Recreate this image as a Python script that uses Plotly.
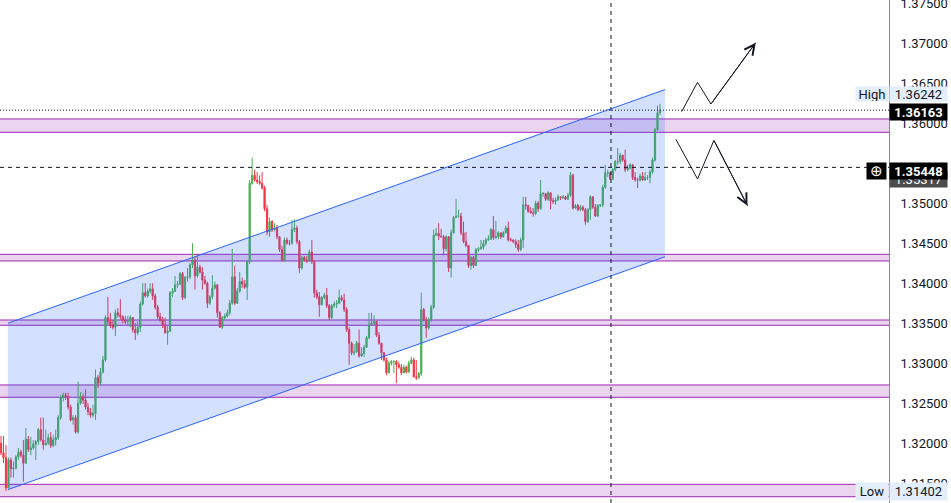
import plotly.graph_objects as go

# --- candles (open of each bar = previous close) ---
first_open = 1.3200
closes = [
    1.3188, 1.3182, 1.3144, 1.3179, 1.3168, 1.3169, 1.3183, 1.3189, 1.3185, 1.3175,
    1.3205, 1.3192, 1.3194, 1.3199, 1.3202, 1.3217, 1.3204, 1.3198, 1.3200, 1.3207,
    1.3197, 1.3204, 1.3207, 1.3232, 1.3257, 1.3260, 1.3258, 1.3245, 1.3229, 1.3232,
    1.3214, 1.3250, 1.3258, 1.3254, 1.3245, 1.3239, 1.3235, 1.3237, 1.3282, 1.3275,
    1.3289, 1.3304, 1.3357, 1.3352, 1.3348, 1.3345, 1.3363, 1.3360, 1.3358, 1.3354,
    1.3352, 1.3353, 1.3357, 1.3342, 1.3338, 1.3345, 1.3374, 1.3388, 1.3384, 1.3390,
    1.3393, 1.3384, 1.3370, 1.3358, 1.3354, 1.3348, 1.3338, 1.3340,
    1.3388, 1.3390, 1.3398, 1.3399, 1.3412, 1.3382, 1.3407, 1.3408, 1.3423, 1.3429,
    1.3409, 1.3420, 1.3414, 1.3404, 1.3400, 1.3375, 1.3383, 1.3394, 1.3398, 1.3363,
    1.3345, 1.3357, 1.3359, 1.3363, 1.3375, 1.3408, 1.3375, 1.3390, 1.3402, 1.3399,
    1.3395, 1.3427, 1.3525, 1.3535, 1.3529, 1.3527, 1.3525, 1.3519, 1.3493, 1.3464,
    1.3477, 1.3467, 1.3469, 1.3458, 1.3442, 1.3429, 1.3454, 1.3450, 1.3450, 1.3467,
    1.3469, 1.3452, 1.3419, 1.3432, 1.3429, 1.3428, 1.3439, 1.3427, 1.3388, 1.3383,
    1.3373, 1.3382, 1.3385, 1.3372, 1.3357, 1.3372, 1.3374, 1.3375, 1.3382, 1.3379,
    1.3367, 1.3342, 1.3325, 1.3313, 1.3314, 1.3325, 1.3309, 1.3312, 1.3320, 1.3332,
    1.3348, 1.3350, 1.3352, 1.3335, 1.3325, 1.3313, 1.3304, 1.3288, 1.3300, 1.3302,
    1.3302, 1.3298, 1.3295, 1.3288, 1.3295, 1.3289, 1.3300, 1.3304, 1.3283, 1.3282,
    1.3287, 1.3367, 1.3354, 1.3344, 1.3354, 1.3370, 1.3460,
    1.3462, 1.3459, 1.3458, 1.3443, 1.3458, 1.3419, 1.3463, 1.3482, 1.3484, 1.3484,
    1.3463, 1.3452, 1.3447, 1.3422, 1.3432, 1.3422, 1.3442, 1.3443, 1.3445, 1.3450,
    1.3454, 1.3455, 1.3467, 1.3457, 1.3458, 1.3463, 1.3458, 1.3463, 1.3469, 1.3454,
    1.3454, 1.3452, 1.3448, 1.3442, 1.3454, 1.3498, 1.3497, 1.3490, 1.3488, 1.3487,
    1.3500, 1.3493, 1.3512, 1.3512, 1.3505, 1.3513, 1.3503, 1.3502, 1.3504, 1.3508,
    1.3507,
    1.3508, 1.3505, 1.3510, 1.3535, 1.3494, 1.3497, 1.3492, 1.3495, 1.3492, 1.3477,
    1.3492, 1.3508, 1.3495, 1.3484, 1.3497, 1.3498, 1.3520, 1.3538, 1.3538, 1.3530,
    1.3542, 1.3552, 1.3552, 1.3560, 1.3554, 1.3542, 1.3544, 1.3548, 1.3532, 1.3529,
    1.3529, 1.3534, 1.3529, 1.3532, 1.3532, 1.3539, 1.3554, 1.3592, 1.3613, 1.36163,
]
highs = [
    1.3209, 1.3209, 1.3198, 1.3182, 1.3182, 1.3177, 1.3185, 1.3194, 1.3192, 1.3204,
    1.3219, 1.3209, 1.3208, 1.3204, 1.3204, 1.3219, 1.3232, 1.3232, 1.3217, 1.3212,
    1.3214, 1.3210, 1.3217, 1.3235, 1.3260, 1.3263, 1.3263, 1.3263, 1.3248, 1.3235,
    1.3235, 1.3277, 1.3264, 1.3262, 1.3267, 1.3250, 1.3244, 1.3248, 1.3292, 1.3285,
    1.3294, 1.3309, 1.3360, 1.3383, 1.3363, 1.3354, 1.3367, 1.3369, 1.3380, 1.3360,
    1.3359, 1.3359, 1.3360, 1.3357, 1.3350, 1.3352, 1.3377, 1.3400, 1.3400, 1.3393,
    1.3400, 1.3400, 1.3387, 1.3373, 1.3363, 1.3358, 1.3357, 1.3348,
    1.3390, 1.3394, 1.3409, 1.3403, 1.3414, 1.3414, 1.3409, 1.3419, 1.3425, 1.3450,
    1.3433, 1.3435, 1.3423, 1.3420, 1.3409, 1.3402, 1.3385, 1.3410, 1.3402, 1.3399,
    1.3365, 1.3359, 1.3362, 1.3367, 1.3379, 1.3443, 1.3422, 1.3394, 1.3414, 1.3407,
    1.3404, 1.3429, 1.3529, 1.3557, 1.3542, 1.3539, 1.3535, 1.3539, 1.3522, 1.3498,
    1.3482, 1.3479, 1.3475, 1.3473, 1.3459, 1.3447, 1.3457, 1.3457, 1.3454, 1.3479,
    1.3480, 1.3472, 1.3454, 1.3434, 1.3434, 1.3434, 1.3442, 1.3454, 1.3429, 1.3392,
    1.3389, 1.3384, 1.3388, 1.3394, 1.3374, 1.3374, 1.3377, 1.3379, 1.3392, 1.3385,
    1.3387, 1.3370, 1.3345, 1.3327, 1.3324, 1.3328, 1.3342, 1.3320, 1.3323, 1.3334,
    1.3363, 1.3363, 1.3360, 1.3353, 1.3339, 1.3325, 1.3314, 1.3307, 1.3303, 1.3304,
    1.3304, 1.3304, 1.3302, 1.3299, 1.3298, 1.3297, 1.3303, 1.3308, 1.3307, 1.3304,
    1.3289, 1.3388, 1.3369, 1.3358, 1.3357, 1.3373, 1.3467,
    1.3469, 1.3475, 1.3468, 1.3460, 1.3460, 1.3459, 1.3467, 1.3484, 1.3505, 1.3492,
    1.3488, 1.3477, 1.3464, 1.3448, 1.3434, 1.3434, 1.3444, 1.3445, 1.3454, 1.3454,
    1.3457, 1.3460, 1.3469, 1.3484, 1.3478, 1.3465, 1.3463, 1.3465, 1.3472, 1.3477,
    1.3457, 1.3455, 1.3455, 1.3454, 1.3457, 1.3508, 1.3508, 1.3498, 1.3495, 1.3494,
    1.3503, 1.3503, 1.3529, 1.3514, 1.3513, 1.3515, 1.3513, 1.3507, 1.3507, 1.3511,
    1.3509,
    1.3510, 1.3509, 1.3513, 1.3539, 1.3537, 1.3499, 1.3499, 1.3498, 1.3497, 1.3494,
    1.3494, 1.3510, 1.3509, 1.3499, 1.3499, 1.3499, 1.3523, 1.3548, 1.3542, 1.3539,
    1.3544, 1.3554, 1.3569, 1.3563, 1.3560, 1.3567, 1.3548, 1.3550, 1.3549, 1.3539,
    1.3532, 1.3537, 1.3539, 1.3539, 1.3535, 1.3542, 1.3557, 1.3594, 1.3622, 1.36242,
]
lows = [
    1.3185, 1.3175, 1.31402, 1.3144, 1.3157, 1.3157, 1.3167, 1.3179, 1.3182, 1.3152,
    1.3174, 1.3189, 1.3185, 1.3192, 1.3179, 1.3198, 1.3202, 1.3192, 1.3197, 1.3198,
    1.3194, 1.3195, 1.3197, 1.3204, 1.3229, 1.3252, 1.3254, 1.3242, 1.3227, 1.3223,
    1.3212, 1.3212, 1.3248, 1.3249, 1.3242, 1.3235, 1.3232, 1.3232, 1.3229, 1.3269,
    1.3273, 1.3287, 1.3302, 1.3348, 1.3344, 1.3342, 1.3334, 1.3357, 1.3354, 1.3350,
    1.3349, 1.3347, 1.3345, 1.3338, 1.3329, 1.3335, 1.3339, 1.3372, 1.3382, 1.3382,
    1.3387, 1.3379, 1.3367, 1.3354, 1.3352, 1.3344, 1.3337, 1.3323,
    1.3339, 1.3383, 1.3389, 1.3394, 1.3397, 1.3379, 1.3380, 1.3402, 1.3405, 1.3419,
    1.3392, 1.3407, 1.3412, 1.3392, 1.3398, 1.3369, 1.3373, 1.3380, 1.3392, 1.3357,
    1.3344, 1.3343, 1.3354, 1.3357, 1.3360, 1.3373, 1.3373, 1.3374, 1.3388, 1.3394,
    1.3393, 1.3379, 1.3424, 1.3523, 1.3527, 1.3524, 1.3523, 1.3517, 1.3490, 1.3460,
    1.3458, 1.3464, 1.3465, 1.3455, 1.3439, 1.3427, 1.3427, 1.3448, 1.3447, 1.3448,
    1.3464, 1.3449, 1.3413, 1.3417, 1.3427, 1.3425, 1.3427, 1.3424, 1.3382, 1.3380,
    1.3358, 1.3372, 1.3380, 1.3369, 1.3354, 1.3355, 1.3369, 1.3369, 1.3374, 1.3377,
    1.3364, 1.3339, 1.3298, 1.3310, 1.3310, 1.3313, 1.3307, 1.3308, 1.3308, 1.3319,
    1.3330, 1.3347, 1.3348, 1.3333, 1.3323, 1.3304, 1.3302, 1.3285, 1.3287, 1.3297,
    1.3288, 1.3275, 1.3293, 1.3285, 1.3287, 1.3287, 1.3288, 1.3299, 1.3282, 1.3279,
    1.3280, 1.3284, 1.3352, 1.3332, 1.3342, 1.3352, 1.3368,
    1.3459, 1.3454, 1.3457, 1.3435, 1.3440, 1.3414, 1.3407, 1.3462, 1.3482, 1.3482,
    1.3460, 1.3450, 1.3445, 1.3419, 1.3417, 1.3419, 1.3422, 1.3439, 1.3442, 1.3442,
    1.3447, 1.3453, 1.3454, 1.3454, 1.3455, 1.3455, 1.3455, 1.3457, 1.3462, 1.3452,
    1.3452, 1.3450, 1.3444, 1.3439, 1.3440, 1.3444, 1.3492, 1.3488, 1.3487, 1.3483,
    1.3485, 1.3489, 1.3492, 1.3508, 1.3503, 1.3503, 1.3492, 1.3499, 1.3498, 1.3503,
    1.3504,
    1.3505, 1.3504, 1.3504, 1.3508, 1.3492, 1.3493, 1.3490, 1.3490, 1.3490, 1.3473,
    1.3475, 1.3479, 1.3493, 1.3483, 1.3483, 1.3495, 1.3495, 1.3518, 1.3533, 1.3529,
    1.3529, 1.3540, 1.3548, 1.3549, 1.3552, 1.3539, 1.3540, 1.3542, 1.3529, 1.3527,
    1.3519, 1.3527, 1.3528, 1.3528, 1.3529, 1.3525, 1.3537, 1.3552, 1.3590, 1.3610,
]
opens = [first_open] + closes[:-1]
bars = list(range(len(closes)))

# --- drawings ---
channel_x = [2.8, 267.0]
channel_top = [1.3350, 1.3642]
channel_bottom = [1.3142, 1.3433]

zone_bottom = [1.35886, 1.34278, 1.33474, 1.32574, 1.31331]
zone_top = [1.36053, 1.34361, 1.33540, 1.32728, 1.31486]

cross_bar = 245.3
cross_price = 1.35448
other_price = 1.35317

up_x = [273.7, 280.1, 285.5, 303.5]
up_y = [1.36144, 1.36511, 1.36240, 1.37006]
down_x = [271.4, 280.1, 286.7, 300.2]
down_y = [1.35799, 1.35303, 1.35786, 1.34969]

y_ticks = [1.315, 1.320, 1.325, 1.330, 1.335, 1.340, 1.345,
           1.350, 1.355, 1.360, 1.365, 1.370, 1.375]
# 1.35500 sits under the crosshair price label, so the scale leaves it blank
y_tick_text = ['1.31500', '1.32000', '1.32500', '1.33000', '1.33500', '1.34000', '1.34500',
               '1.35000', '', '1.36000', '1.36500', '1.37000', '1.37500']

W, H = 951, 503
TXT = '#131722'
FONT = 'Roboto'

fig = go.Figure()

# channel fill + borders
fig.add_trace(go.Scatter(
    x=channel_x + channel_x[::-1] + channel_x[:1],
    y=channel_top + channel_bottom[::-1] + channel_top[:1],
    mode='lines', fill='toself', fillcolor='rgba(41,98,255,0.2)',
    line=dict(width=0), hoverinfo='skip'))
for ys in (channel_top, channel_bottom):
    fig.add_trace(go.Scatter(x=channel_x, y=ys, mode='lines',
                             line=dict(color='#2962ff', width=1), hoverinfo='skip'))

fig.add_trace(go.Candlestick(
    x=bars, open=opens, high=highs, low=lows, close=closes,
    increasing=dict(line=dict(color='#4caf50', width=1), fillcolor='#4caf50'),
    decreasing=dict(line=dict(color='#f23645', width=1), fillcolor='#f23645'),
    whiskerwidth=0))

# zigzag arrows
for xs, ys in ((up_x, up_y), (down_x, down_y)):
    fig.add_trace(go.Scatter(x=xs, y=ys, mode='lines',
                             line=dict(color=TXT, width=1), hoverinfo='skip'))
    fig.add_annotation(x=xs[-1], y=ys[-1], ax=xs[-2], ay=ys[-2],
                       xref='x', yref='y', axref='x', ayref='y', text='',
                       showarrow=True, arrowhead=5, arrowsize=2, arrowwidth=1,
                       arrowcolor=TXT)

# support / resistance zones
for lo, hi in zip(zone_bottom, zone_top):
    fig.add_shape(type='rect', xref='paper', yref='y', x0=0, x1=1, y0=lo, y1=hi,
                  fillcolor='rgba(156,39,176,0.2)', line=dict(width=0), layer='below')
    for v in (lo, hi):
        fig.add_shape(type='line', xref='paper', yref='y', x0=0, x1=1, y0=v, y1=v,
                      line=dict(color='#9c27b0', width=1), layer='below')

# last price line and crosshair
fig.add_shape(type='line', xref='paper', yref='y', x0=0, x1=1,
              y0=closes[-1], y1=closes[-1], line=dict(color=TXT, width=1, dash='1px,2px'))
fig.add_shape(type='line', xref='paper', yref='y', x0=0, x1=1,
              y0=cross_price, y1=cross_price, line=dict(color=TXT, width=1, dash='4px,4px'))
fig.add_shape(type='line', xref='x', yref='paper', x0=cross_bar, x1=cross_bar,
              y0=0, y1=1, line=dict(color=TXT, width=1, dash='4px,4px'))


def axis_label(text, y_px, bg, fg, h=16, w=57, xanchor='left', x=1.0, bold=False, size=13):
    fig.add_annotation(xref='paper', yref='paper', x=x, y=1 - y_px / H,
                       xanchor=xanchor, yanchor='middle', showarrow=False,
                       text=f'<b>{text}</b>' if bold else text,
                       bgcolor=bg, width=w, height=h, borderpad=0, align='center',
                       font=dict(family=FONT, size=size, color=fg))


hl_bg = '#e3eefb'
axis_label('High', 94, hl_bg, TXT, h=14, w=32, xanchor='right')
axis_label(f'{max(highs):.5f}', 94, hl_bg, TXT, h=14)
axis_label(f'{closes[-1]:.5f}', 112, '#000000', '#ffffff', bold=True)
axis_label(f'{other_price:.5f}', 179.5, '#4d4d4d', '#ffffff')
axis_label(f'{cross_price:.5f}', 170.5, '#000000', '#ffffff', bold=True)
axis_label('⊕', 170.5, '#000000', '#ffffff', w=19, xanchor='right', x=1 - 2 / 889, size=15)
axis_label('Low', 491.7, hl_bg, TXT, h=17, w=32, xanchor='right')
axis_label(f'{min(lows):.5f}', 491.7, hl_bg, TXT, h=17)

fig.update_layout(
    width=W, height=H,
    margin=dict(l=0, r=62, t=0, b=0),
    paper_bgcolor='white', plot_bgcolor='white',
    showlegend=False,
    font=dict(family=FONT, size=13, color=TXT),
)
fig.update_xaxes(visible=False, range=[-0.4, 357.1], rangeslider_visible=False)
fig.update_yaxes(side='right', range=[1.312525, 1.3754], tickvals=y_ticks,
                 ticktext=y_tick_text, showgrid=False, zeroline=False, showline=True,
                 linecolor='#8a8a8a', linewidth=1, ticks='', ticklabelstandoff=8,
                 ticklabeloverflow='allow', automargin=False,
                 tickfont=dict(family=FONT, size=13, color=TXT))

# page body has a default 8px margin; drop it so the chart fills the window
fig.write_html('out.html', config={'displayModeBar': False},
               post_script="document.body.style.margin='0';document.body.style.overflow='hidden';")
